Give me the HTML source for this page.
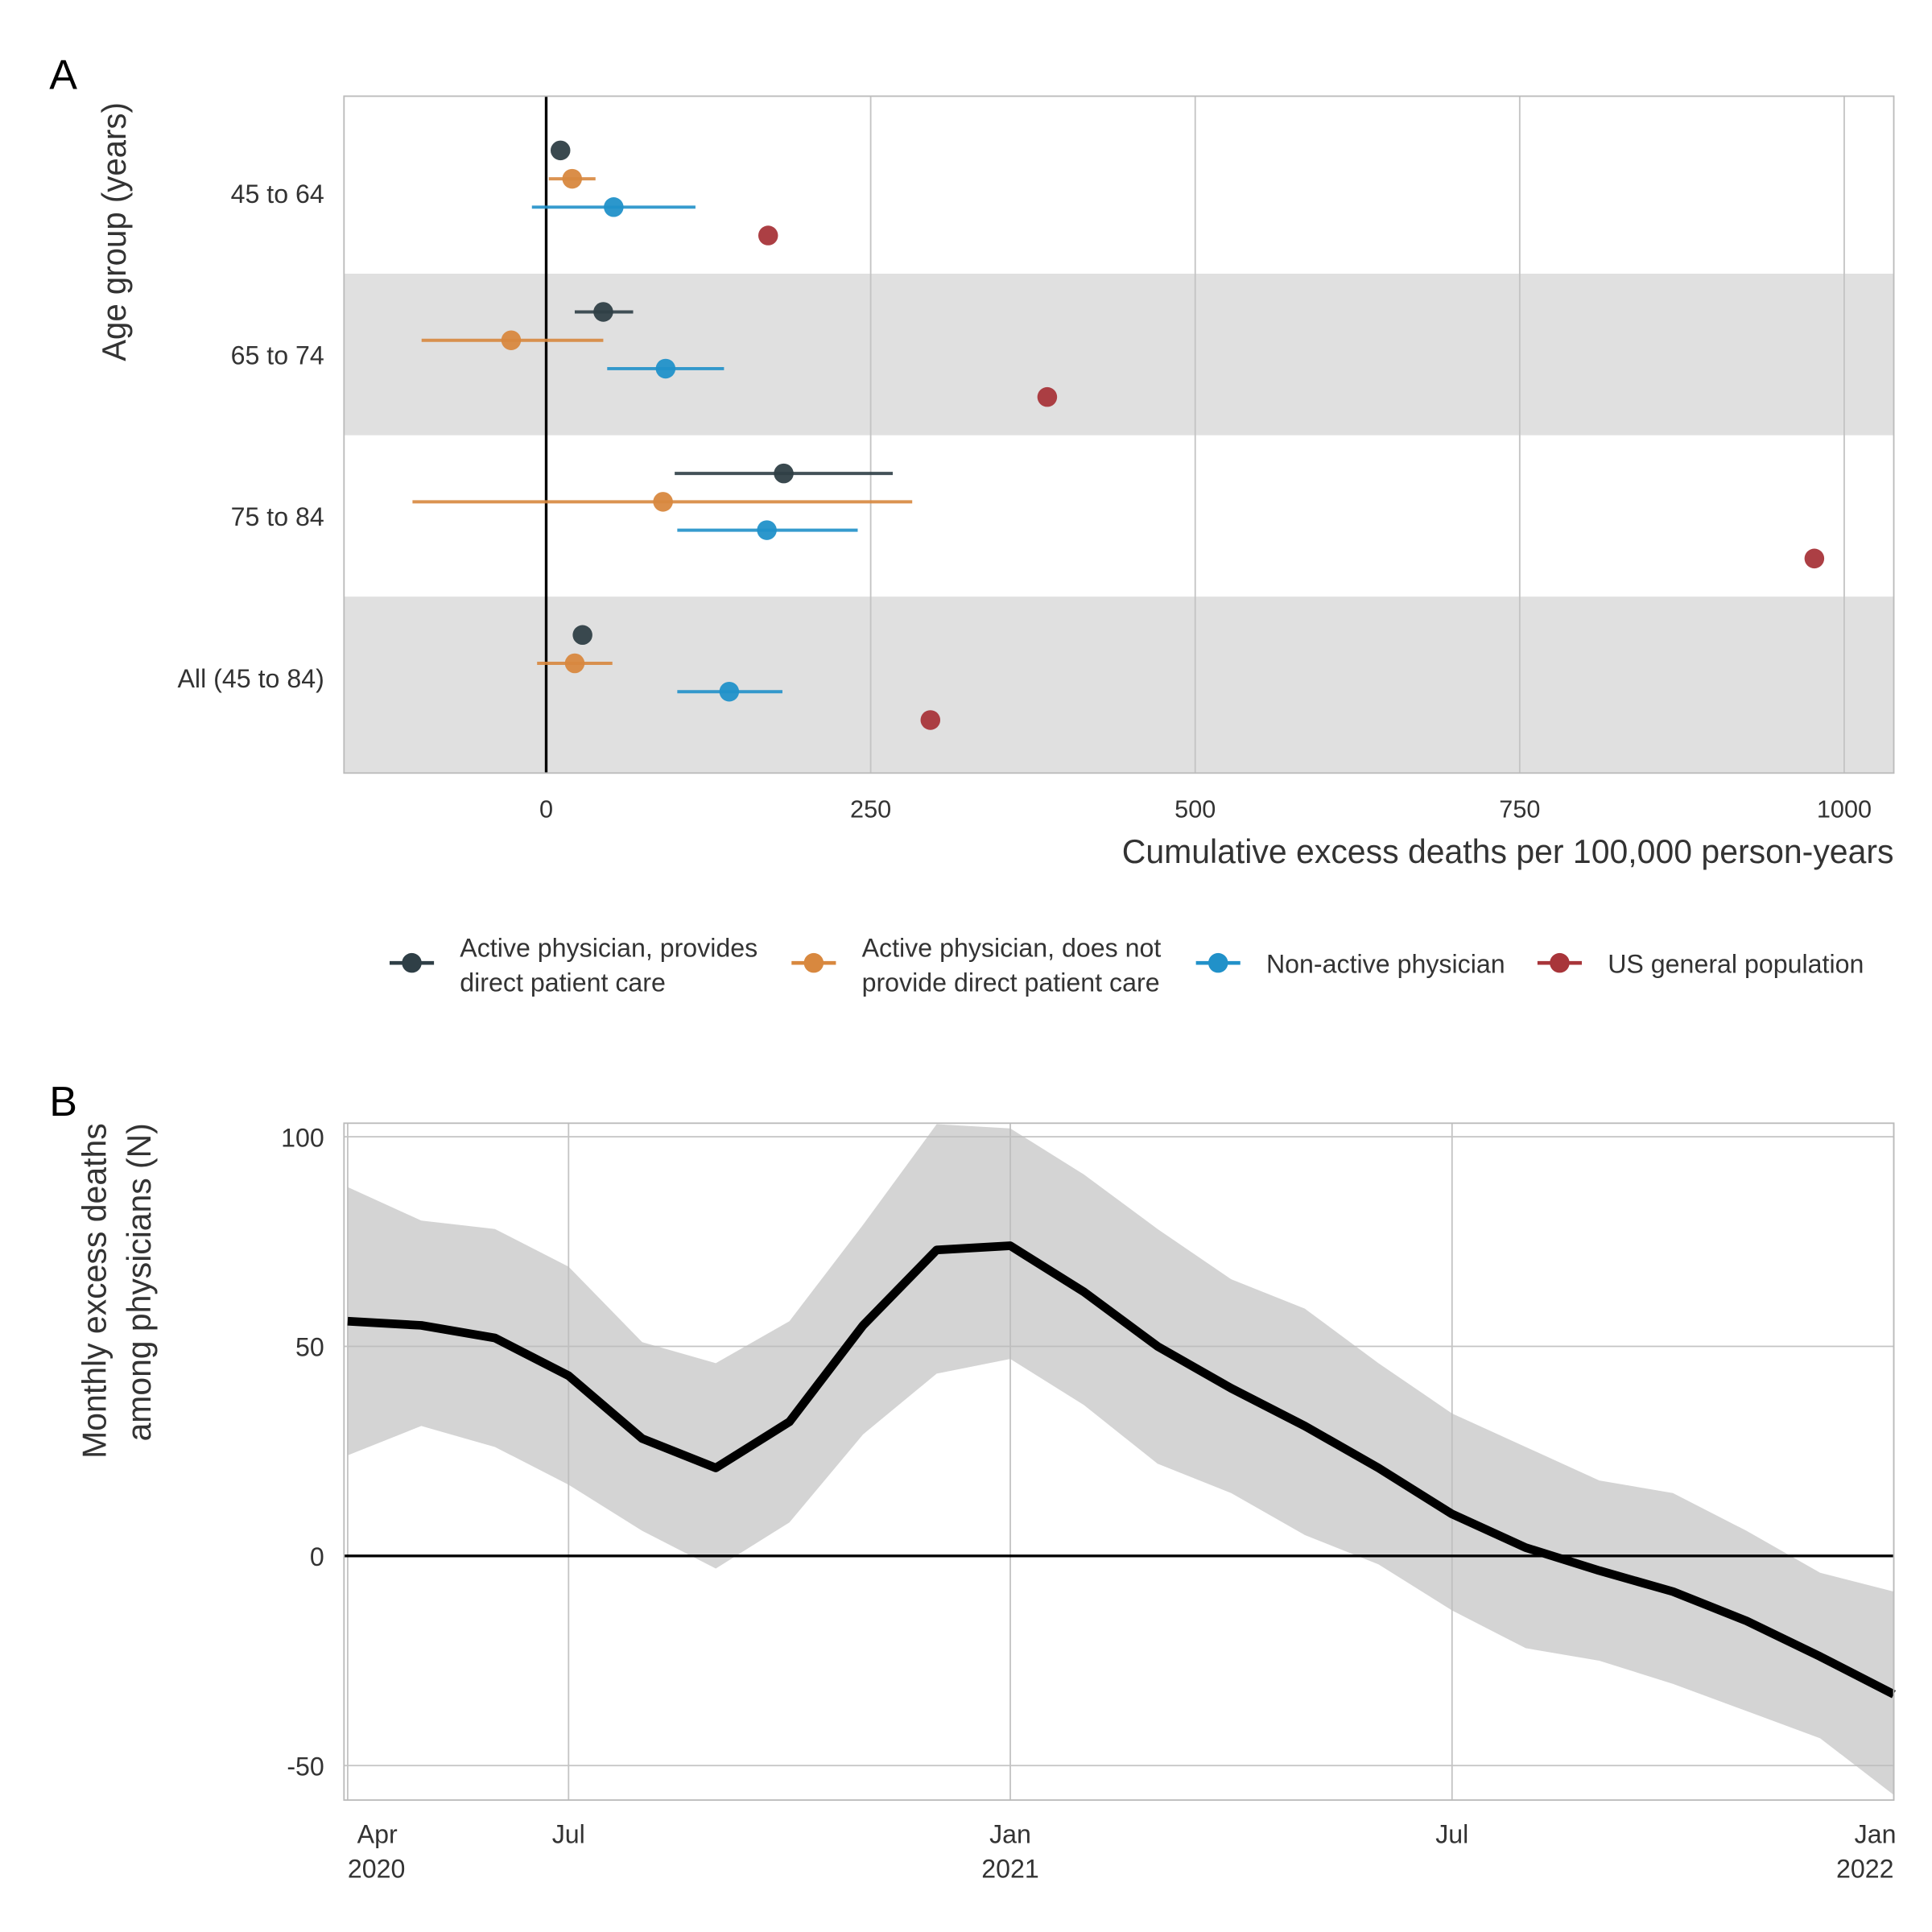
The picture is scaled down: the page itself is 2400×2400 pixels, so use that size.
<!DOCTYPE html>
<html><head><meta charset="utf-8"><style>
html,body{margin:0;padding:0;background:#fff}
svg{display:block}
text{font-family:"Liberation Sans",sans-serif;fill:#333}
</style></head><body>
<svg id="chart" width="2400" height="2400" viewBox="0 0 1567 1567" xmlns="http://www.w3.org/2000/svg">
<g id="pa"></g>
<g id="pb"></g>
</svg>
<script>
// Panel A data
const groups = ["45 to 64","65 to 74","75 to 84","All (45 to 84)"];
const seriesNames = ["Active physician, provides direct patient care","Active physician, does not provide direct patient care","Non-active physician","US general population"];
const estDark = [11,44,183,28];
const loDark = [null,22,99,null];
const hiDark = [null,67,267,null];
const estOrange = [20,-27,90,22];
const loOrange = [2,-96,-103,-7];
const hiOrange = [38,44,282,51];
const estBlue = [52,92,170,141];
const loBlue = [-11,47,101,101];
const hiBlue = [115,137,240,182];
const estRed = [171,386,977,296];
const xTicksA = [0,250,500,750,1000];
// Panel B data
const months = ["Apr 2020","May 2020","Jun 2020","Jul 2020","Aug 2020","Sep 2020","Oct 2020","Nov 2020","Dec 2020","Jan 2021","Feb 2021","Mar 2021","Apr 2021","May 2021","Jun 2021","Jul 2021","Aug 2021","Sep 2021","Oct 2021","Nov 2021","Dec 2021","Jan 2022"];
const excess = [56,55,52,43,28,21,32,55,73,74,63,50,40,31,21,10,2,-3.5,-8.5,-15.5,-24,-33];
const upper = [88,80,78,69,51,46,56,79,103,102,91,78,66,59,46,34,26,18,15,6,-4,-8.5];
const lower = [24,31,26,17,6,-3,8,29,43.5,47,36,22,15,5,-2,-13,-22,-25,-30.5,-37,-43.5,-57];
const yTicksB = [100,50,0,-50];
const xTickIdxB = [0,3,9,15,21];
const xTickLabB = [["Apr","2020"],["Jul",""],["Jan","2021"],["Jul",""],["Jan","2022"]];

const NS="http://www.w3.org/2000/svg";
function mk(parent,tag,attrs,txt){const e=document.createElementNS(NS,tag);for(const k in attrs)e.setAttribute(k,attrs[k]);if(txt!==undefined)e.textContent=txt;parent.appendChild(e);return e;}

// ---------- Panel A ----------
const pa=document.getElementById('pa');
const AL=279,AR=1536,AT=78,AB=627;
const xA=v=>443+(v)*1.0528;
const grpC=i=>156.5+i*131;
const colors=["#2f3f46","#d8883f","#2191c9","#a8353a"];
let t;
t=mk(pa,'text',{x:40,y:72,'font-size':34,style:'fill:#000'},'A');

[1,3].forEach(i=>{const r=mk(pa,'rect',{x:AL,y:grpC(i)-65.5,width:AR-AL,height:131,fill:'#e0e0e0'});
});
mk(pa,'rect',{x:AL,y:grpC(3)-65.5,width:AR-AL,height:AB-(grpC(3)-65.5),fill:'#e0e0e0'});
xTicksA.forEach(v=>{if(v===0)return;const l=mk(pa,'line',{x1:xA(v),x2:xA(v),y1:AT,y2:AB,stroke:'#c4c4c4','stroke-width':1.2});
});
const zl=mk(pa,'line',{x1:xA(0),x2:xA(0),y1:AT,y2:AB,stroke:'#000','stroke-width':2.2});

const bA=mk(pa,'rect',{x:AL,y:AT,width:AR-AL,height:AB-AT,fill:'none',stroke:'#bbb','stroke-width':1.2});

const ests=[estDark,estOrange,estBlue,estRed];
const los=[loDark,loOrange,loBlue,[null,null,null,null]];
const his=[hiDark,hiOrange,hiBlue,[null,null,null,null]];
groups.forEach((g,i)=>{
 t=mk(pa,'text',{x:263,y:grpC(i)+8,'text-anchor':'end','font-size':21},g);
 
 for(let s=0;s<4;s++){
  const y=grpC(i)-34.5+s*23;
  if(los[s][i]!==null){const l=mk(pa,'line',{x1:xA(los[s][i]),x2:xA(his[s][i]),y1:y,y2:y,stroke:colors[s],'stroke-width':2.6,opacity:0.9});
   }
  const c=mk(pa,'circle',{cx:xA(ests[s][i]),cy:y,r:8,fill:colors[s],opacity:0.95});
  
 }
});
xTicksA.forEach(v=>{t=mk(pa,'text',{x:xA(v),y:663,'text-anchor':'middle','font-size':20},String(v));
 });
t=mk(pa,'text',{x:1536,y:700,'text-anchor':'end','font-size':27,textLength:626,lengthAdjust:'spacingAndGlyphs'},'Cumulative excess deaths per 100,000 person-years');

t=mk(pa,'text',{x:0,y:0,'text-anchor':'middle','font-size':27,transform:'translate(102,188) rotate(-90)',textLength:210,lengthAdjust:'spacingAndGlyphs'},'Age group (years)');

// legend
const legX=[316,642,970,1247];
const legLines=[["Active physician, provides","direct patient care"],["Active physician, does not","provide direct patient care"],["Non-active physician"],["US general population"]];
legLines.forEach((ls,s)=>{
 const lg=mk(pa,'g',{});
 
 mk(lg,'line',{x1:legX[s],x2:legX[s]+36,y1:781,y2:781,stroke:colors[s],'stroke-width':3});
 mk(lg,'circle',{cx:legX[s]+18,cy:781,r:8,fill:colors[s]});
 ls.forEach((tx,k)=>{const tl=mk(lg,'text',{x:legX[s]+57,y:ls.length===1?789:776+k*28,'font-size':21},tx);
  });
});

// ---------- Panel B ----------
const pb=document.getElementById('pb');
const BL=279,BR=1536,BT=911,BB=1460;
const xB=i=>282+i*(1536-282)/21;
const yB=v=>1262-v*3.4;
t=mk(pb,'text',{x:40,y:905,'font-size':34,style:'fill:#000'},'B');

yTicksB.forEach(v=>{const l=mk(pb,'line',{x1:BL,x2:BR,y1:yB(v),y2:yB(v),stroke:'#c4c4c4','stroke-width':1.2});
 
 t=mk(pb,'text',{x:263,y:yB(v)+8,'text-anchor':'end','font-size':21},String(v));
 });
xTickIdxB.forEach((ix,k)=>{const l=mk(pb,'line',{x1:xB(ix),x2:xB(ix),y1:BT,y2:BB,stroke:'#c4c4c4','stroke-width':1.2});
 });
let d='';
upper.forEach((v,i)=>{d+=(i?'L':'M')+xB(i)+','+yB(v)});
for(let i=lower.length-1;i>=0;i--)d+='L'+xB(i)+','+yB(lower[i]);
const band=mk(pb,'path',{d:d+'Z',fill:'#bdbdbd','fill-opacity':0.65});

const z=mk(pb,'line',{x1:BL,x2:BR,y1:yB(0),y2:yB(0),stroke:'#000','stroke-width':2.2});

const pts=excess.map((v,i)=>xB(i)+','+yB(v)).join(' ');
const ln=mk(pb,'polyline',{points:pts,fill:'none',stroke:'#000','stroke-width':7,'stroke-linejoin':'round'});

const bB=mk(pb,'rect',{x:BL,y:BT,width:BR-BL,height:BB-BT,fill:'none',stroke:'#bbb','stroke-width':1.2});

xTickIdxB.forEach((ix,k)=>{
 let x=xB(ix),anc='middle';
 if(k===0){anc='start';x=282;}
 if(k===xTickIdxB.length-1){anc='end';x=1536;}
 const lab=xTickLabB[k];
 t=mk(pb,'text',{x:k===xTickIdxB.length-1?1521:(k===0?306:x),y:1495,'text-anchor':'middle','font-size':21},lab[0]);
 
 if(lab[1]){t=mk(pb,'text',{x:x,y:1523,'text-anchor':anc,'font-size':21},lab[1]);
 }
});
t=mk(pb,'text',{x:0,y:0,'text-anchor':'middle','font-size':27,transform:'translate(86,1047) rotate(-90)',textLength:272,lengthAdjust:'spacingAndGlyphs'},'Monthly excess deaths');

t=mk(pb,'text',{x:0,y:0,'text-anchor':'middle','font-size':27,transform:'translate(122,1040) rotate(-90)',textLength:258,lengthAdjust:'spacingAndGlyphs'},'among physicians (N)');

</script>
</body></html>
